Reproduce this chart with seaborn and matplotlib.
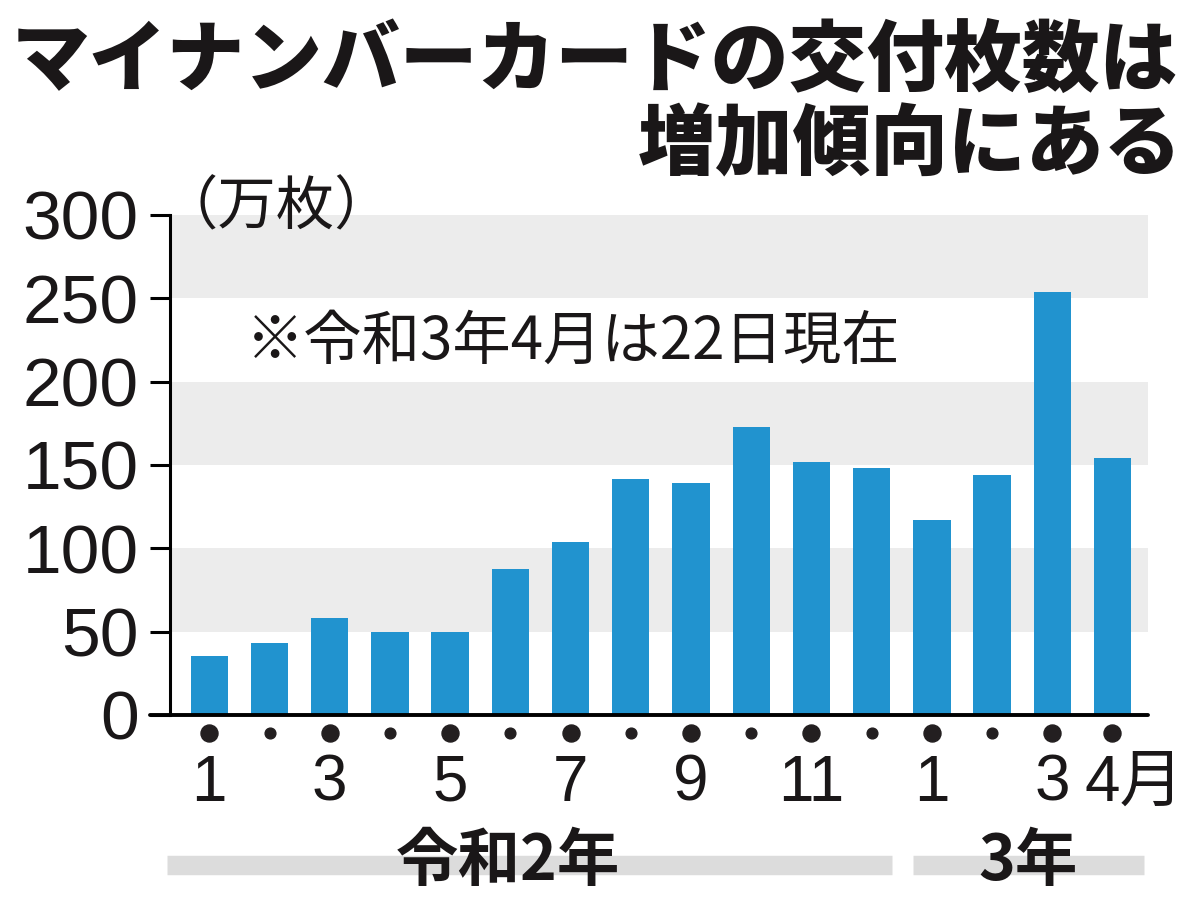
import matplotlib
matplotlib.use("Agg")
import matplotlib.pyplot as plt
import matplotlib.transforms as mtransforms
import pandas as pd
import seaborn as sns

# monthly issuance of My Number cards (10k cards), Reiwa 2 Jan .. Reiwa 3 Apr
months = ["R2-01", "R2-02", "R2-03", "R2-04", "R2-05", "R2-06", "R2-07", "R2-08",
          "R2-09", "R2-10", "R2-11", "R2-12", "R3-01", "R3-02", "R3-03", "R3-04"]
month_labels = ["1", "", "3", "", "5", "", "7", "", "9", "", "11", "", "1", "", "3", "4月"]
issued = [35.3, 43.5, 58.5, 50.1, 50.1, 87.8, 104.1, 141.8,
          139.5, 172.9, 152.1, 148.0, 116.8, 143.8, 254.1, 154.3]
years = ["令和2年", "3年"]
year_months = [12, 4]

title_lines = ["マイナンバーカードの交付枚数は", "増加傾向にある"]
unit_label = "（万枚）"
note = "※令和3年4月は22日現在"

df = pd.DataFrame({"month": months, "issued": issued})

sns.set_style("white")
plt.rcParams["font.family"] = ["Liberation Sans", "Noto Sans CJK JP", "DejaVu Sans"]
plt.rcParams["text.color"] = "#1a1718"
plt.rcParams["ytick.labelcolor"] = "#1a1718"
plt.rcParams["xtick.labelcolor"] = "#1a1718"
JP = ["Noto Sans CJK JP", "DejaVu Sans"]
NUM = ["Liberation Sans Narrow", "Liberation Sans", "Noto Sans CJK JP"]

fig = plt.figure(figsize=(12, 9.09), dpi=100)
ax = fig.add_axes([170 / 1200, 194 / 909, 978 / 1200, 500 / 909])

# alternating grey bands
for lo in (50, 150, 250):
    ax.axhspan(lo, lo + 50, color="#ececec", lw=0, zorder=0)

sns.barplot(x="month", y="issued", data=df, order=months, color="#2193cf",
            saturation=1, width=0.62, errorbar=None, linewidth=0, ax=ax, zorder=2)

ax.set_xlim(-0.653, len(months) - 0.41)
ax.set_ylim(0, 300)
ax.set_yticks([0, 50, 100, 150, 200, 250, 300])
ax.set_yticklabels(["0", "50", "100", "150", "200", "250", "300"], fontsize=50)
ax.tick_params(axis="y", length=14.5, width=2.2, color="black", pad=8, left=True)
ax.set_xlabel("")
ax.set_ylabel("")

for s in ("top", "right"):
    ax.spines[s].set_visible(False)
ax.spines["left"].set_color("black")
ax.spines["left"].set_linewidth(2.2)
ax.spines["bottom"].set_visible(False)
ax.axhline(0, xmin=-20 / 978, xmax=1, color="black", lw=2.8, clip_on=False, zorder=3)

# month labels with dots
xs = list(range(len(months)))
ax.set_xticks(xs)
ax.set_xticklabels(month_labels, fontsize=46, family=NUM)
ax.tick_params(axis="x", length=0, pad=28)
lbl = ax.get_xticklabels()[-1]
lbl.set_ha("left")
lbl.set_transform(lbl.get_transform() +
                  mtransforms.ScaledTranslation(-20 / 72, 0, fig.dpi_scale_trans))

trans = ax.get_xaxis_transform()
big = [i for i, m in enumerate(month_labels) if m]
small = [i for i, m in enumerate(month_labels) if not m]
ax.scatter(big, [-0.036] * len(big), s=150, color="#231f20", transform=trans,
           clip_on=False, zorder=4)
ax.scatter(small, [-0.036] * len(small), s=60, color="#231f20", transform=trans,
           clip_on=False, zorder=4)

# year brackets
start = 0
spans = []
for n in year_months:
    spans.append((start, start + n - 1))
    start += n
for (a, b), name, (l, r) in zip(spans, years, [(-0.71, 0.33), (-0.32, 0.53)]):
    ax.plot([a + l, b + r], [-0.299, -0.299], transform=trans, color="#dcdcdc",
            lw=14, solid_capstyle="butt", clip_on=False, zorder=1)
    ax.text((a + b) / 2 + (a + l + b + r - a - b) / 2 - (0.35 if b - a > 5 else 0),
            -0.294, name, transform=trans, ha="center", va="center",
            fontsize=45, fontweight="bold", family=JP, zorder=5)

# texts
fig.text(12 / 1200, 1 - 62 / 909, title_lines[0], ha="left", va="center",
         fontsize=56, fontweight=900, family=JP)
fig.text(1182 / 1200, 1 - 146 / 909, title_lines[1], ha="right", va="center",
         fontsize=56, fontweight=900, family=JP)
fig.text(160 / 1200, 1 - 208 / 909, unit_label, ha="left", va="center",
         fontsize=42, family=JP)
fig.text(246 / 1200, 1 - 342 / 909, note, ha="left", va="center",
         fontsize=42, family=JP)

fig.savefig("out.png", dpi=100, facecolor="white")
